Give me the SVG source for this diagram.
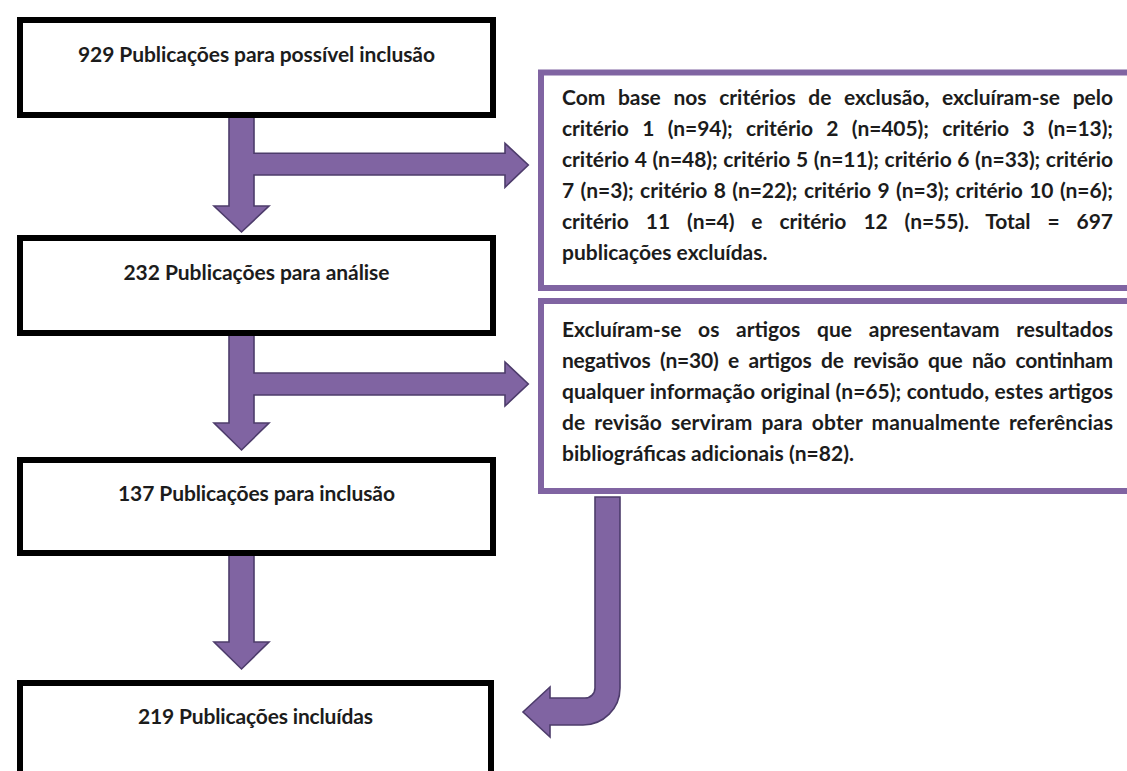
<svg xmlns="http://www.w3.org/2000/svg" width="1127" height="771" viewBox="0 0 1127 771">
<style>
.bx{fill:#ffffff;stroke:#000000;stroke-width:6}
.pb{fill:#ffffff;stroke:#8064a2;stroke-width:6}
.ar{fill:#8064a2;stroke:#4d3c6b;stroke-width:1.6;stroke-linejoin:miter}
.lb{font-family:"Lato","Carlito","Liberation Sans",sans-serif;font-weight:bold;font-size:21px;fill:#1c1c1c;text-anchor:middle}
.tx{font-family:"Lato","Carlito","Liberation Sans",sans-serif;font-weight:bold;font-size:21px;fill:#1c1c1c}
</style>
<rect x="0" y="0" width="1127" height="771" fill="#ffffff"/>
<g id="connectors">
<path class="ar" d="M229,117 L254,117 L254,153.3 L505,153.3 L505,143.3 L528.3,165 L505,187.3 L505,175 L254,175 L254,206 L269,206 L241.5,232 L214,206 L229,206 Z"/>
<path class="ar" d="M229,335 L254,335 L254,373 L505,373 L505,362 L528.3,384 L505,406 L505,395 L254,395 L254,423 L269,423 L241.5,450 L214,423 L229,423 Z"/>
<path class="ar" d="M229,555 L254,555 L254,642 L269,642 L241.5,669 L214,642 L229,642 Z"/>
<path class="ar" d="M595,497 L620,497 L620,688 A37,37 0 0 1 583,725 L550,725 L550,737 L523,712 L550,687 L550,698 L585,698 A10,10 0 0 0 595,688 Z"/>
</g>
<g id="node-929">
<rect class="bx" x="20" y="20" width="473" height="95"/>
<text class="lb" x="256.5" y="61.5" textLength="357" lengthAdjust="spacing">929 Publicações para possível inclusão</text>
</g>
<g id="node-232">
<rect class="bx" x="20" y="238" width="473" height="95"/>
<text class="lb" x="256.5" y="279.5" textLength="266" lengthAdjust="spacing">232 Publicações para análise</text>
</g>
<g id="node-137">
<rect class="bx" x="20" y="460" width="473" height="93"/>
<text class="lb" x="256.5" y="500.5" textLength="277" lengthAdjust="spacing">137 Publicações para inclusão</text>
</g>
<g id="node-219">
<rect class="bx" x="20" y="683" width="471" height="130"/>
<text class="lb" x="255.5" y="724" textLength="235" lengthAdjust="spacing">219 Publicações incluídas</text>
</g>
<g id="node-exclusao-criterios">
<rect class="pb" x="541" y="72.5" width="600" height="215.5"/>
<text class="tx" x="562" y="105" textLength="551" lengthAdjust="spacing" word-spacing="7.6">Com base nos critérios de exclusão, excluíram-se pelo</text>
<text class="tx" x="562" y="136" textLength="551" lengthAdjust="spacing" word-spacing="8.4">critério 1 (n=94); critério 2 (n=405); critério 3 (n=13);</text>
<text class="tx" x="562" y="167" textLength="551" lengthAdjust="spacing" word-spacing="0.6">critério 4 (n=48); critério 5 (n=11); critério 6 (n=33); critério</text>
<text class="tx" x="562" y="198" textLength="551" lengthAdjust="spacing" word-spacing="1.4">7 (n=3); critério 8 (n=22); critério 9 (n=3); critério 10 (n=6);</text>
<text class="tx" x="562" y="229" textLength="551" lengthAdjust="spacing" word-spacing="12">critério 11 (n=4) e critério 12 (n=55). Total = 697</text>
<text class="tx" x="562" y="260" textLength="205.5" lengthAdjust="spacing">publicações excluídas.</text>
</g>
<g id="node-exclusao-artigos">
<rect class="pb" x="541" y="301" width="600" height="190"/>
<text class="tx" x="562" y="337" textLength="551" lengthAdjust="spacing" word-spacing="11.6">Excluíram-se os artigos que apresentavam resultados</text>
<text class="tx" x="562" y="368" textLength="551" lengthAdjust="spacing" word-spacing="4.7">negativos (n=30) e artigos de revisão que não continham</text>
<text class="tx" x="562" y="399" textLength="551" lengthAdjust="spacing" word-spacing="0.3">qualquer informação original (n=65); contudo, estes artigos</text>
<text class="tx" x="562" y="430" textLength="551" lengthAdjust="spacing" word-spacing="3.8">de revisão serviram para obter manualmente referências</text>
<text class="tx" x="562" y="461" textLength="292" lengthAdjust="spacing">bibliográficas adicionais (n=82).</text>
</g>
</svg>
